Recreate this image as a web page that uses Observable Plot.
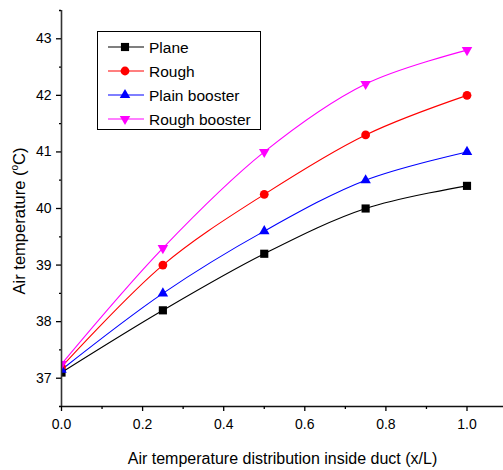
<!DOCTYPE html>
<html><head><meta charset="utf-8">
<script src="https://cdn.jsdelivr.net/npm/d3@7"></script>
<script src="https://cdn.jsdelivr.net/npm/@observablehq/plot@0.6"></script>
<style>
body{margin:0;background:#fff;}
#wrap{position:relative;width:503px;height:470px;font-family:"Liberation Sans",Arial,sans-serif;}
#legend{position:absolute;left:0;top:0;}
</style></head>
<body><div id="wrap"></div>
<script>
const xPositions = [0, 0.25, 0.5, 0.75, 1.0];
const seriesNames = ["Plane", "Rough", "Plain booster", "Rough booster"];
const plane = [37.1, 38.2, 39.2, 40.0, 40.4];
const rough = [37.2, 39.0, 40.25, 41.3, 42.0];
const plainBooster = [37.15, 38.5, 39.6, 40.5, 41.0];
const roughBooster = [37.25, 39.3, 41.0, 42.2, 42.8];
const colors = ["#000000", "#ff0000", "#0000ff", "#ff00ff"];
const xTicks = [0, 0.2, 0.4, 0.6, 0.8, 1.0];
const xMinorTicks = [0.1, 0.3, 0.5, 0.7, 0.9];
const yTicks = [37, 38, 39, 40, 41, 42, 43];
const yMinorTicks = [36.5, 37.5, 38.5, 39.5, 40.5, 41.5, 42.5, 43.5];

const allValues = [plane, rough, plainBooster, roughBooster];
const data = [];
seriesNames.forEach((s, i) => xPositions.forEach((x, j) => data.push({series: s, x, y: allValues[i][j]})));

const triangleDown = {
  draw(context, size) {
    const y = -Math.sqrt(size / (Math.sqrt(3) * 3));
    context.moveTo(0, -y * 2);
    context.lineTo(-Math.sqrt(3) * y, y);
    context.lineTo(Math.sqrt(3) * y, y);
    context.closePath();
  }
};
const symbols = [d3.symbolSquare, d3.symbolCircle, d3.symbolTriangle, triangleDown];
const sizes = [4.6, 4.4, 3.9, 3.9];

const font = "Liberation Sans, Arial, sans-serif";
const plot = Plot.plot({
  width: 503, height: 470,
  marginLeft: 61, marginRight: 0, marginTop: 10, marginBottom: 64,
  style: {fontFamily: font, fontSize: "14px", color: "#000", background: "#fff"},
  x: {domain: [0, 1.09]},
  y: {domain: [36.5, 43.5]},
  color: {domain: seriesNames, range: colors},
  symbol: {domain: seriesNames, range: symbols},
  marks: [
    Plot.line(data, {x: "x", y: "y", z: "series", stroke: "series", strokeWidth: 1.1, curve: "catmull-rom", clip: true}),
    ...seriesNames.map((s, i) => Plot.dot(data.filter(d => d.series === s), {x: "x", y: "y", symbol: "series", fill: "series", stroke: "none", r: sizes[i], clip: true})),
    Plot.ruleX([0], {stroke: "#333", strokeWidth: 1.6}),
    Plot.ruleY([36.5], {stroke: "#111", strokeWidth: 1.6}),
    Plot.axisX(xTicks, {tickSize: 5, tickPadding: 8, tickFormat: d3.format(".1f"), label: null, fontSize: 14, strokeWidth: 1.3}),
    Plot.axisX(xMinorTicks, {tickSize: 3, tickFormat: null, text: null, label: null, strokeWidth: 1.3}),
    Plot.axisY(yTicks, {tickSize: 5, tickPadding: 5, tickFormat: d3.format("d"), label: null, fontSize: 14, strokeWidth: 1.3}),
    Plot.axisY(yMinorTicks, {tickSize: 2, text: null, label: null, strokeWidth: 1.3}),
    Plot.text(["Air temperature distribution inside duct (x/L)"], {frameAnchor: "bottom", dy: 57, fontSize: 16, text: d => d}),
  ]
});
document.getElementById("wrap").appendChild(plot);

// y-axis title with superscript
const svg = d3.select(plot);
const yt = svg.append("text")
  .attr("transform", "translate(25,221) rotate(-90)")
  .attr("text-anchor", "middle")
  .attr("font-size", 16.5)
  .attr("font-family", font)
  .attr("fill", "#000");
yt.append("tspan").text("Air temperature (");
yt.append("tspan").attr("font-size", 10).attr("dy", -7).text("o");
yt.append("tspan").attr("dy", 7).text("C)");

// legend box overlay
const lg = d3.select("#wrap").append("svg").attr("id", "legend").attr("width", 503).attr("height", 470);
lg.append("rect").attr("x", 97.5).attr("y", 31.5).attr("width", 163).attr("height", 98)
  .attr("fill", "#fff").attr("stroke", "#000").attr("stroke-width", 1);
seriesNames.forEach((s, i) => {
  const cy = 47 + i * 24;
  lg.append("line").attr("x1", 108).attr("x2", 144).attr("y1", cy).attr("y2", cy).attr("stroke", colors[i]).attr("stroke-width", 1.1);
  const r = sizes[i];
  lg.append("path").attr("transform", `translate(125,${cy})`).attr("d", d3.symbol(symbols[i], Math.PI * r * r)()).attr("fill", colors[i]);
  lg.append("text").attr("x", 149).attr("y", cy + 5.5).attr("font-size", 15.5).attr("font-family", font).text(s);
});
</script></body></html>
